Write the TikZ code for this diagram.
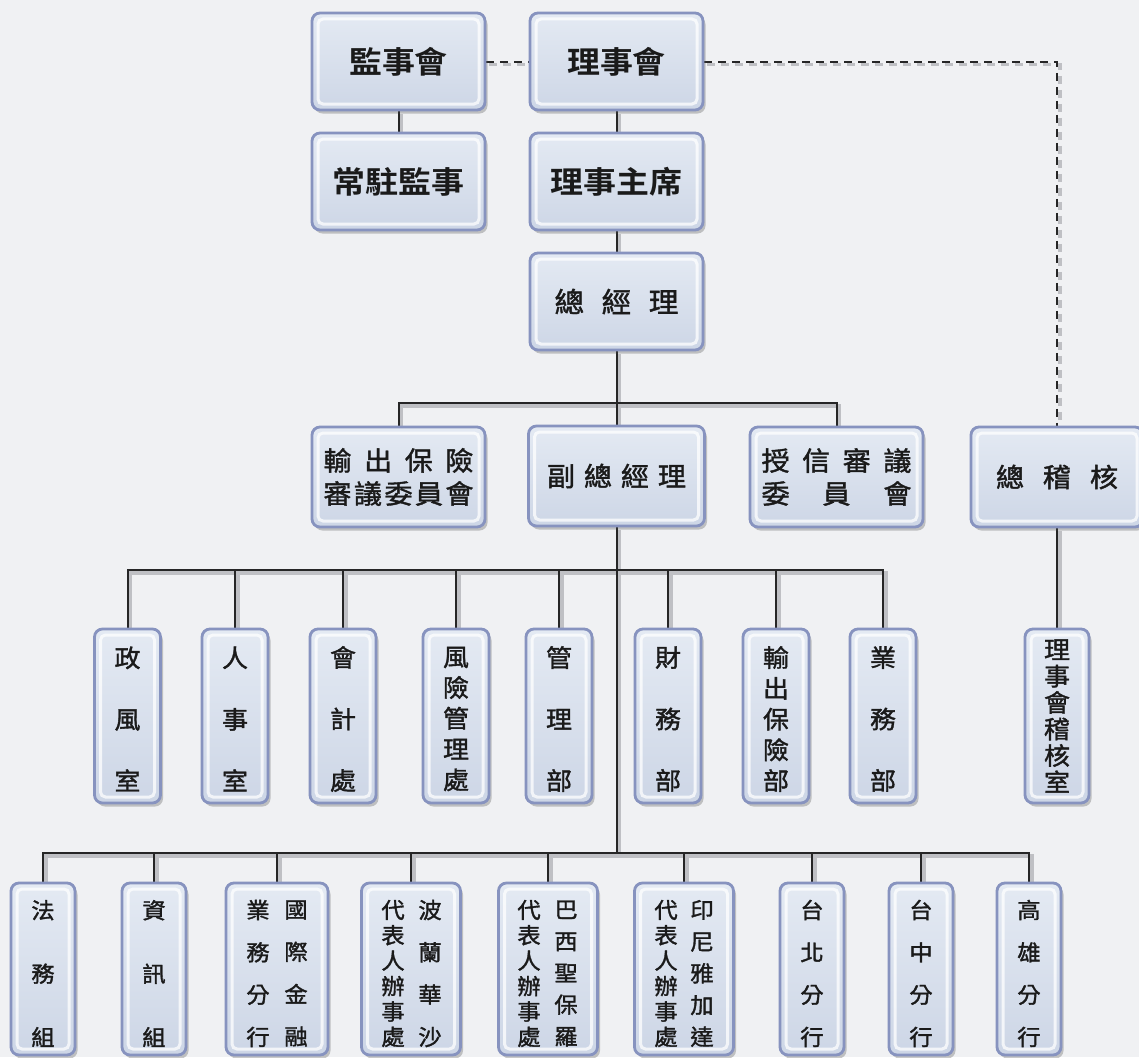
\documentclass[tikz,border=0pt]{standalone}
\usepackage{fontspec}
\newfontfamily\cjk[FakeStretch=1.06,FakeBold=1.5]{Noto Sans CJK TC}
\newfontfamily\cjkt[FakeStretch=1.08]{Noto Sans CJK TC Bold}
\usetikzlibrary{shadows,calc}
\pgfdeclarelayer{bg}
\pgfdeclarelayer{lines}
\pgfsetlayers{bg,lines,main}
\definecolor{bgc}{HTML}{F0F1F3}
\definecolor{rim}{HTML}{8793BF}
\definecolor{boxtop}{HTML}{E4EAF3}
\definecolor{boxbot}{HTML}{CDD6E6}
\definecolor{ink}{HTML}{1A1A1A}
\definecolor{lnc}{HTML}{262626}
\definecolor{shd}{HTML}{BFC0C4}
\tikzset{
  box/.style={draw=rim, line width=2.8pt, rounded corners=8pt,
    top color=boxtop, bottom color=boxbot, inner sep=0pt, text=ink,
    drop shadow={shadow xshift=2.5pt, shadow yshift=-3.5pt, opacity=0.3, fill=black!70},
    path picture={\draw[white, opacity=.75, line width=3pt, rounded corners=5pt]
      ($(path picture bounding box.north west)+(6pt,-6pt)$) rectangle
      ($(path picture bounding box.south east)+(-6pt,6pt)$);}},
  lvA/.style={box, minimum width=173pt, minimum height=97pt,
    font=\cjkt\fontsize{30.5pt}{36pt}\selectfont},
  lvB/.style={box, minimum width=#1, minimum height=100pt, align=center,
    font=\cjk\fontsize{26.5pt}{33pt}\selectfont},
  col4/.style={box, minimum width=66pt, minimum height=174pt},
  col5/.style={box, minimum width=#1, minimum height=172pt},
  tx4/.style={inner sep=0pt, align=center, text=ink,
    font=\cjk\fontsize{24.5pt}{#1pt}\selectfont},
  tx5/.style={inner sep=0pt, align=center, text=ink,
    font=\cjk\fontsize{22pt}{#1pt}\selectfont},
  conn/.style={draw=lnc, line width=2pt},
  connsh/.style={draw=shd, line width=3.4pt},
  dashline/.style={dash pattern=on 8pt off 6pt},
}
\newcommand\drawconns[1]{%
  \draw[#1] (js.south) -- (cz.north);
  \draw[#1] (ls.south) -- (zx.north);
  \draw[#1] (zx.south) -- (zjl.north);
  \draw[#1] (zjl.south) -- (fz.north);
  \draw[#1] (ck.north) |- (b3) -| (sx.north);
  \draw[#1] (fz.south) -- (b5);
  \draw[#1] (d1.north) |- (b4) -| (d8.north);
  \foreach \n in {d2,d3,d4,d5,d6,d7} \draw[#1] (\n.north) -- (\n.north |- b4);
  \draw[#1] (e1.north) |- (b5) -| (e9.north);
  \foreach \n in {e2,e3,e4,e5,e6,e7,e8} \draw[#1] (\n.north) -- (\n.north |- b5);
  \draw[#1] (zjh.south) -- (jh.north);
  \draw[#1, dashline] (js.east) -- (ls.west);
  \draw[#1, dashline] (ls.east) -| (zjh.north);
}
\begin{document}
\begin{tikzpicture}[x=1pt,y=-1pt]
\begin{pgfonlayer}{bg}
  \fill[bgc] (0,0) rectangle (1139,1057);
\end{pgfonlayer}
\useasboundingbox (0,0) rectangle (1139,1057);

% top levels
\node[lvA] (js) at (398.5,61.5) {監事會};
\node[lvA] (ls) at (616.5,61.5) {理事會};
\node[lvA] (cz) at (398.5,181.5) {常駐監事};
\node[lvA] (zx) at (616.5,181.5) {理事主席};
\node[box, minimum width=173pt, minimum height=97pt,
  font=\cjk\fontsize{28pt}{34pt}\selectfont] (zjl) at (616.5,301.5)
  {\makebox[124pt][s]{總\hfill 經\hfill 理}};

% level 3
\node[lvB=173pt] (ck) at (398.5,477)
  {\makebox[150pt][s]{輸\hfill 出\hfill 保\hfill 險}\\\makebox[150pt][s]{審\hfill 議\hfill 委\hfill 員\hfill 會}};
\node[lvB=176pt] (fz) at (616.5,476) {\makebox[139pt][s]{副\hfill 總\hfill 經\hfill 理}};
\node[lvB=173pt] (sx) at (836.5,477)
  {\makebox[150pt][s]{授\hfill 信\hfill 審\hfill 議}\\\makebox[150pt][s]{委\hfill 員\hfill 會}};
\node[lvB=172pt] (zjh) at (1057,477) {\makebox[122pt][s]{總\hfill 稽\hfill 核}};

\coordinate (b3) at (616.5,403);
\coordinate (b4) at (616.5,570);
\coordinate (b5) at (616.5,853);

% level 4
\node[col4] (d1) at (127.5,716) {};
\node[col4] (d2) at (235,716) {};
\node[col4] (d3) at (343,716) {};
\node[col4] (d4) at (456,716) {};
\node[col4] (d5) at (559,716) {};
\node[col4] (d6) at (668,716) {};
\node[col4] (d7) at (776,716) {};
\node[col4] (d8) at (883,716) {};
\node[col4, minimum width=64pt] (jh) at (1057,716) {};
\node[tx4=61.5] (d1t) at ($(d1.center)+(0,3)$) {政\\風\\室};
\node[tx4=61.5] (d2t) at ($(d2.center)+(0,3)$) {人\\事\\室};
\node[tx4=61.5] (d3t) at ($(d3.center)+(0,3)$) {會\\計\\處};
\node[tx4=30.75] (d4t) at ($(d4.center)+(0,3)$) {風\\險\\管\\理\\處};
\node[tx4=61.5] (d5t) at ($(d5.center)+(0,3)$) {管\\理\\部};
\node[tx4=61.5] (d6t) at ($(d6.center)+(0,3)$) {財\\務\\部};
\node[tx4=30.75] (d7t) at ($(d7.center)+(0,3)$) {輸\\出\\保\\險\\部};
\node[tx4=61.5] (d8t) at ($(d8.center)+(0,3)$) {業\\務\\部};
\node[tx4=26.5] (jht) at ($(jh.center)+(0,0)$) {理\\事\\會\\稽\\核\\室};

% level 5
\node[col5=64pt] (e1) at (43,969) {};
\node[col5=64pt] (e2) at (154,969) {};
\node[col5=102pt] (e3) at (277,969) {};
\node[col5=99pt] (e4) at (411,969) {};
\node[col5=99pt] (e5) at (548,969) {};
\node[col5=99pt] (e6) at (684,969) {};
\node[col5=64pt] (e7) at (812,969) {};
\node[col5=64pt] (e8) at (921,969) {};
\node[col5=64pt] (e9) at (1029,969) {};
\node[tx5=63.5] (e1t) at (43,973.5) {法\\務\\組};
\node[tx5=63.5] (e2t) at (154,973.5) {資\\訊\\組};
\node[tx5=42.3] (e3l) at (258,973.5) {業\\務\\分\\行};
\node[tx5=42.3] (e3r) at (296,973.5) {國\\際\\金\\融};
\node[tx5=25.4] (e4l) at (393,973.5) {代\\表\\人\\辦\\事\\處};
\node[tx5=42.3] (e4r) at (430,973.5) {波\\蘭\\華\\沙};
\node[tx5=25.4] (e5l) at (529,973.5) {代\\表\\人\\辦\\事\\處};
\node[tx5=31.75] (e5r) at (566,973.5) {巴\\西\\聖\\保\\羅};
\node[tx5=25.4] (e6l) at (666,973.5) {代\\表\\人\\辦\\事\\處};
\node[tx5=31.75] (e6r) at (702,973.5) {印\\尼\\雅\\加\\達};
\node[tx5=42.3] (e7t) at (812,973.5) {台\\北\\分\\行};
\node[tx5=42.3] (e8t) at (921,973.5) {台\\中\\分\\行};
\node[tx5=42.3] (e9t) at (1029,973.5) {高\\雄\\分\\行};

\begin{pgfonlayer}{lines}
  \begin{scope}[transform canvas={xshift=3pt,yshift=-3pt}]
    \drawconns{connsh}
  \end{scope}
  \drawconns{conn}
\end{pgfonlayer}
\end{tikzpicture}
\end{document}
